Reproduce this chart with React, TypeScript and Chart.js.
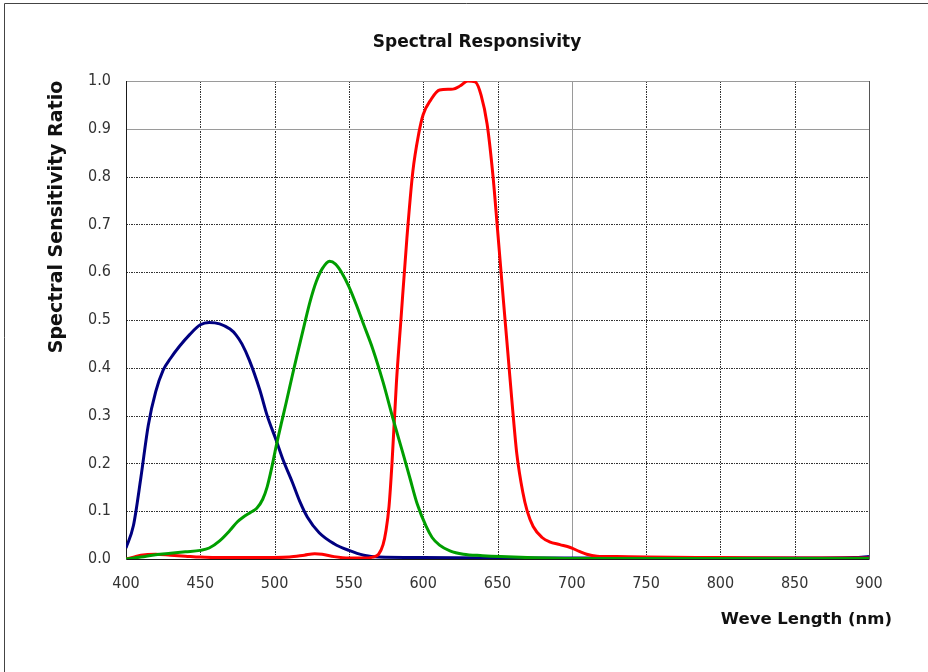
import React, { useEffect, useRef } from 'react';
import { Chart, registerables } from 'chart.js';

Chart.register(...registerables);

// ---- data ----
const blueNm = [400, 405, 410, 415, 420, 425, 430, 436, 443, 450, 456, 463, 470, 474, 478, 483, 490, 495, 501, 506, 512, 517, 522, 530, 540, 550, 560, 570, 600, 650, 700, 750, 800, 850, 890, 900];
const blueVal = [0.023, 0.07, 0.17, 0.28, 0.35, 0.395, 0.42, 0.445, 0.47, 0.49, 0.495, 0.492, 0.481, 0.469, 0.45, 0.416, 0.354, 0.3, 0.249, 0.205, 0.16, 0.12, 0.088, 0.055, 0.032, 0.018, 0.008, 0.004, 0.003, 0.002, 0.002, 0.002, 0.002, 0.002, 0.003, 0.005];

const greenNm = [400, 410, 420, 430, 440, 450, 456, 463, 470, 475, 479, 484, 488, 492, 495, 498, 501, 505, 508, 512, 515, 520, 524, 528, 532, 537, 541, 545, 550, 555, 560, 566, 573, 580, 586, 591, 596, 602, 606, 611, 618, 627, 640, 652, 670, 700, 800, 900];
const greenVal = [0, 0.004, 0.009, 0.012, 0.015, 0.018, 0.023, 0.038, 0.06, 0.078, 0.088, 0.098, 0.106, 0.125, 0.151, 0.19, 0.235, 0.29, 0.33, 0.385, 0.425, 0.49, 0.54, 0.58, 0.607, 0.623, 0.617, 0.6, 0.57, 0.532, 0.49, 0.44, 0.37, 0.29, 0.225, 0.17, 0.115, 0.068, 0.045, 0.029, 0.017, 0.01, 0.007, 0.005, 0.003, 0.001, 0.001, 0.001];

const redNm = [400, 405, 410, 420, 430, 440, 450, 460, 480, 500, 510, 520, 527, 532, 540, 550, 560, 566, 570, 573, 575, 577, 579, 582, 585, 589, 593, 597, 600, 605, 611, 620, 625, 630, 635, 639, 643, 647, 650, 654, 657, 660, 663, 667, 670, 674, 680, 685, 692, 699, 705, 710, 717, 730, 750, 800, 850, 900];
const redVal = [0, 0.004, 0.008, 0.01, 0.008, 0.006, 0.004, 0.003, 0.003, 0.003, 0.004, 0.008, 0.011, 0.01, 0.005, 0.002, 0.002, 0.004, 0.01, 0.03, 0.06, 0.11, 0.2, 0.37, 0.5, 0.67, 0.81, 0.89, 0.93, 0.96, 0.981, 0.983, 0.99, 1.0, 0.998, 0.97, 0.91, 0.8, 0.69, 0.54, 0.43, 0.32, 0.22, 0.14, 0.1, 0.068, 0.045, 0.036, 0.03, 0.024, 0.016, 0.01, 0.006, 0.005, 0.004, 0.003, 0.002, 0.002];

const xTicks = [400, 450, 500, 550, 600, 650, 700, 750, 800, 850, 900];
const yTicks = [0, 0.1, 0.2, 0.3, 0.4, 0.5, 0.6, 0.7, 0.8, 0.9, 1.0];
const solidXLines = [700];
const solidYLines = [0.9, 1.0];

const chartTitle = 'Spectral Responsivity';
const xTitle = 'Weve Length (nm)';
const yTitle = 'Spectral Sensitivity Ratio';

const TICK_FONT = '"DejaVu Sans Condensed", "DejaVu Sans", Verdana, sans-serif';
const TITLE_FONT = '"DejaVu Sans", Verdana, sans-serif';

const toPts = (xs: number[], ys: number[]) => xs.map((x, i) => ({ x, y: ys[i] }));

const decorPlugin = {
  id: 'decor',
  beforeDatasetsDraw(chart: any) {
    const { ctx, chartArea: a, scales } = chart;
    const sx = scales.x;
    const sy = scales.y;
    ctx.save();
    ctx.lineWidth = 1;
    xTicks.forEach((v) => {
      if (v === xTicks[0] || v === xTicks[xTicks.length - 1]) return;
      const px = Math.round(sx.getPixelForValue(v)) + 0.5;
      ctx.beginPath();
      if (solidXLines.includes(v)) {
        ctx.setLineDash([]);
        ctx.strokeStyle = '#9a9a9a';
      } else {
        ctx.setLineDash([2, 1, 1, 1]);
        ctx.strokeStyle = '#333333';
      }
      ctx.moveTo(px, a.top);
      ctx.lineTo(px, a.bottom);
      ctx.stroke();
    });
    yTicks.forEach((v) => {
      if (v === yTicks[0]) return;
      const py = Math.round(sy.getPixelForValue(v)) + 0.5;
      ctx.beginPath();
      if (solidYLines.includes(v)) {
        ctx.setLineDash([]);
        ctx.strokeStyle = '#9a9a9a';
      } else {
        ctx.setLineDash([2, 1, 1, 1]);
        ctx.strokeStyle = '#333333';
      }
      ctx.moveTo(a.left, py);
      ctx.lineTo(a.right, py);
      ctx.stroke();
    });
    ctx.setLineDash([]);
    const rx = Math.round(a.right) + 0.5;
    ctx.strokeStyle = '#555555';
    ctx.beginPath();
    ctx.moveTo(rx, a.top);
    ctx.lineTo(rx, a.bottom);
    ctx.stroke();
    const lx = Math.round(a.left) + 0.5;
    const by = Math.round(a.bottom) + 0.5;
    ctx.strokeStyle = '#1a1a1a';
    ctx.beginPath();
    ctx.moveTo(lx, a.top);
    ctx.lineTo(lx, by);
    ctx.lineTo(rx, by);
    ctx.stroke();
    ctx.restore();
  },
  afterDraw(chart: any) {
    const { ctx, chartArea: a } = chart;
    ctx.save();
    ctx.strokeStyle = '#444444';
    ctx.lineWidth = 1;
    ctx.beginPath();
    ctx.moveTo(4.5, chart.height);
    ctx.lineTo(4.5, 3.5);
    ctx.lineTo(chart.width, 3.5);
    ctx.stroke();

    ctx.fillStyle = '#111111';
    ctx.textBaseline = 'middle';
    ctx.font = 'bold 17px ' + TITLE_FONT;
    ctx.textAlign = 'center';
    ctx.fillText(chartTitle, 477, 43);
    ctx.font = 'bold 16.5px ' + TITLE_FONT;
    ctx.textAlign = 'right';
    ctx.fillText(xTitle, a.right + 23, 620);
    ctx.translate(57, 217);
    ctx.rotate(-Math.PI / 2);
    ctx.textAlign = 'center';
    ctx.font = 'bold 19px ' + TITLE_FONT;
    ctx.fillText(yTitle, 0, 0);
    ctx.restore();
  },
};

export default function App() {
  const ref = useRef<HTMLCanvasElement | null>(null);
  useEffect(() => {
    document.body.style.margin = '0';
    const canvas = ref.current;
    if (!canvas) return;
    const line = (label: string, xs: number[], ys: number[], color: string) => ({
      label,
      data: toPts(xs, ys),
      borderColor: color,
      backgroundColor: color,
      borderWidth: 3,
      pointRadius: 0,
      fill: false,
      cubicInterpolationMode: 'monotone' as const,
    });
    const chart = new Chart(canvas, {
      type: 'line',
      data: {
        datasets: [
          line('Green', greenNm, greenVal, '#009e00'),
          line('Red', redNm, redVal, '#ff0000'),
          line('Blue', blueNm, blueVal, '#000080'),
        ],
      },
      options: {
        animation: false,
        responsive: false,
        devicePixelRatio: 1,
        layout: { padding: { left: 0, top: 81, right: 59, bottom: 0 } },
        plugins: {
          legend: { display: false },
          title: { display: false },
          tooltip: { enabled: false },
        },
        scales: {
          x: {
            type: 'linear',
            min: 400,
            max: 900,
            afterBuildTicks: (s: any) => {
              s.ticks = xTicks.map((v) => ({ value: v }));
            },
            ticks: {
              font: { family: TICK_FONT, size: 16 },
              color: '#333333',
              padding: 7,
              maxRotation: 0,
              callback: (v: any) => String(v),
            },
            grid: { display: false },
            border: { display: false },
            afterFit: (s: any) => {
              s.height = 113;
            },
          },
          y: {
            type: 'linear',
            min: 0,
            max: 1,
            afterBuildTicks: (s: any) => {
              s.ticks = yTicks.map((v) => ({ value: v }));
            },
            ticks: {
              font: { family: TICK_FONT, size: 16 },
              color: '#333333',
              padding: 7,
              callback: (v: any) => Number(v).toFixed(1),
            },
            grid: { display: false },
            border: { display: false },
            afterFit: (s: any) => {
              s.width = 126;
            },
          },
        },
      },
      plugins: [decorPlugin],
    });
    return () => chart.destroy();
  }, []);
  return <canvas ref={ref} width={928} height={672} style={{ display: 'block' }} />;
}
